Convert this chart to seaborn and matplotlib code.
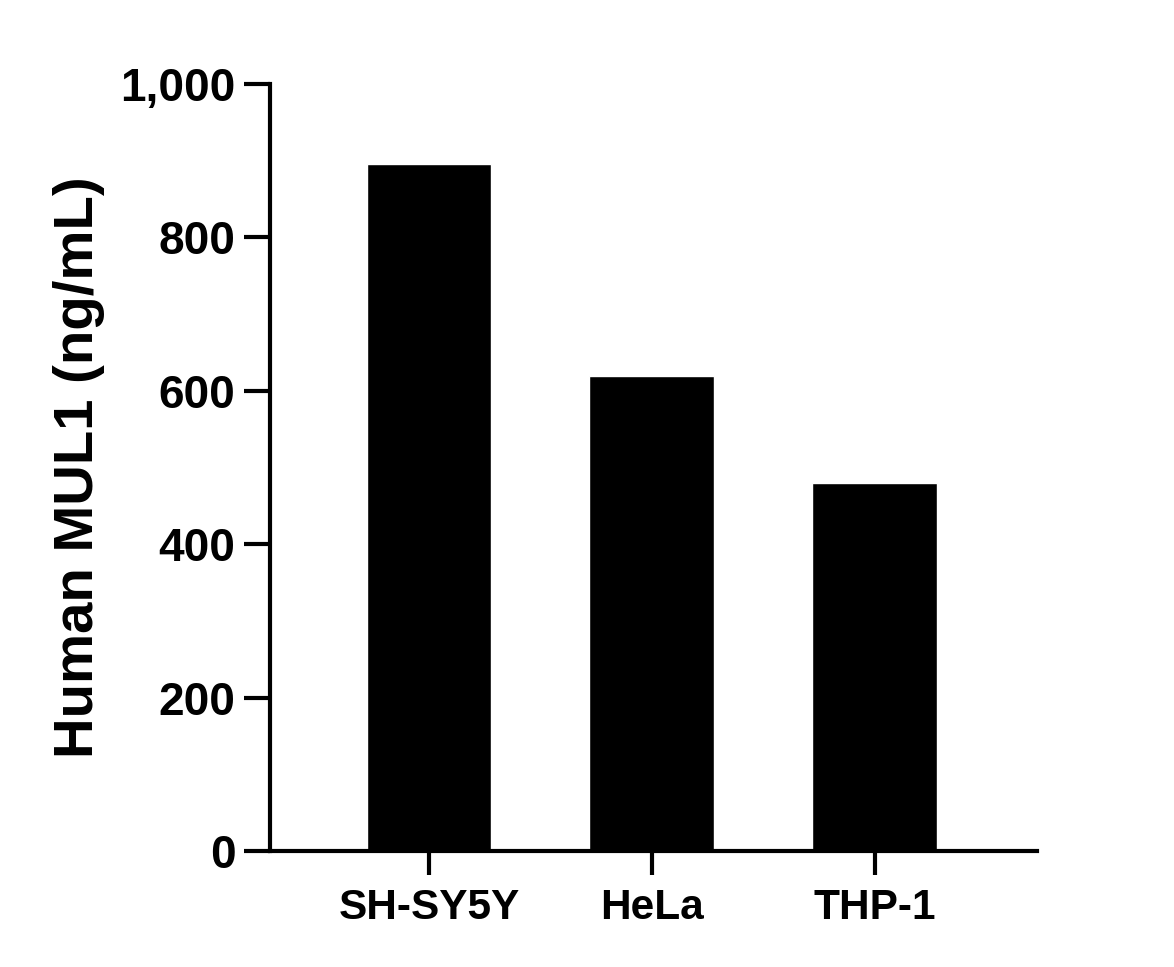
import matplotlib
matplotlib.use('Agg')
import matplotlib.pyplot as plt
import seaborn as sns
import pandas as pd

cell_lines = ['SH-SY5Y', 'HeLa', 'THP-1']
mul1_ng_ml = [896, 620, 480]

df = pd.DataFrame({'Cell line': cell_lines, 'MUL1': mul1_ng_ml})

sns.set_theme(style='ticks')
plt.rcParams['font.family'] = ['Liberation Sans', 'DejaVu Sans']
plt.rcParams['font.weight'] = 'bold'

fig = plt.figure(figsize=(11.74, 9.67), dpi=100)
ax = fig.add_axes([0.23, 0.12, 0.653, 0.793])

sns.barplot(data=df, x='Cell line', y='MUL1', color='black', saturation=1,
            width=0.56, ax=ax)

ax.set_xlim(-0.713, 2.726)
ax.set_ylim(0, 1000)
ax.set_yticks([0, 200, 400, 600, 800, 1000])
ax.set_yticklabels(['0', '200', '400', '600', '800', '1,000'])

ax.set_xlabel('')
ax.set_ylabel('Human MUL1 (ng/mL)', fontsize=40.5, fontweight='bold',
              labelpad=11, color='black')

for s in ['top', 'right']:
    ax.spines[s].set_visible(False)
for s in ['left', 'bottom']:
    ax.spines[s].set_linewidth(3)
    ax.spines[s].set_color('black')

ax.tick_params(axis='y', length=19, width=3, labelsize=33, pad=6, colors='black')
ax.tick_params(axis='x', length=17, width=3, labelsize=30.5, pad=10, colors='black')
for lab in ax.get_xticklabels() + ax.get_yticklabels():
    lab.set_fontweight('bold')

fig.savefig('out.png', dpi=100)
